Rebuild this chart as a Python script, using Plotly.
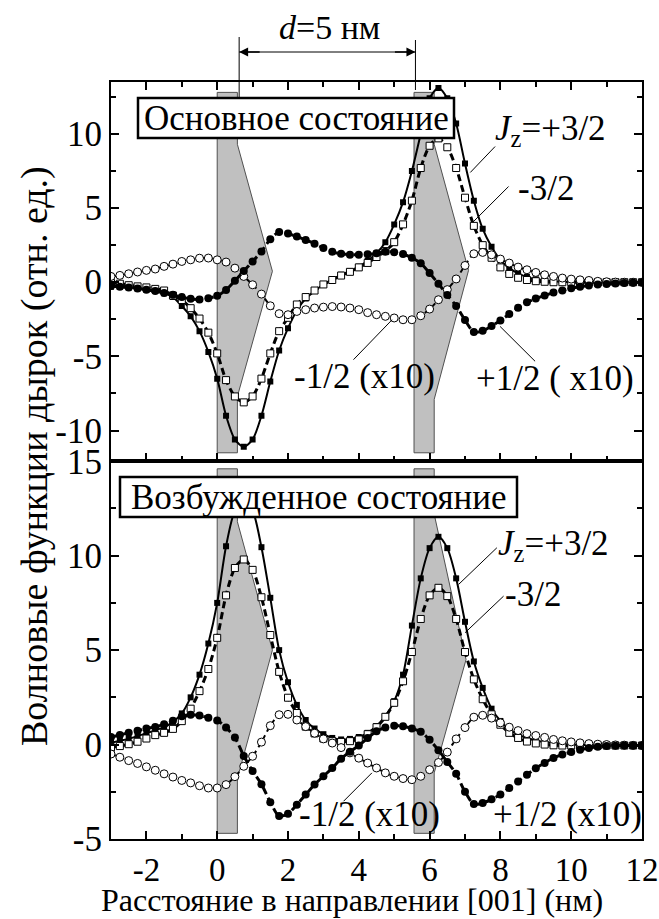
import numpy as np
import plotly.graph_objects as go

# ---------------------------------------------------------------- data
# coordinate along [001] (nm), one sample every 0.25 nm
x_nm = np.round(np.arange(-3.0, 12.0 + 1e-9, 0.25), 2)

# ground state
ground_p32 = [-0.30, -0.32, -0.36, -0.42, -0.50, -0.60, -0.75, -1.00,
              -1.60, -2.30, -3.30, -4.70, -6.50, -9.00, -10.60, -11.10,
              -10.60, -9.00, -6.70, -4.60, -3.10, -1.90, -1.10, -0.60,
              -0.15, 0.20, 0.50, 0.75, 1.05, 1.45, 1.95, 2.70,
              3.90, 5.40, 7.50, 10.00, 12.40, 13.10, 12.40, 10.70,
              8.00, 5.50, 3.60, 2.40, 1.50, 0.95, 0.60, 0.35,
              0.20, 0.12, 0.06, 0.03, 0.01, 0.00, 0.00, 0.00,
              0.00, 0.00, 0.00, 0.00, 0.00]
ground_m32 = [-0.05, -0.10, -0.20, -0.28, -0.35, -0.45, -0.56, -0.90,
              -1.20, -1.75, -2.45, -3.40, -4.80, -6.60, -7.70, -8.10,
              -7.70, -6.50, -4.80, -3.30, -2.40, -1.50, -1.00, -0.56,
              -0.15, 0.15, 0.45, 0.70, 1.00, 1.30, 1.70, 2.10,
              2.70, 3.90, 5.50, 7.70, 9.20, 9.70, 9.10, 7.70,
              5.70, 3.80, 2.50, 1.65, 1.00, 0.56, 0.30, 0.15,
              0.07, 0.03, 0.00, 0.00, 0.00, 0.00, 0.00, 0.00,
              0.00, 0.00, 0.00, 0.00, 0.00]
ground_m12 = [0.39, 0.46, 0.57, 0.69, 0.80, 0.89, 1.07, 1.22,
              1.40, 1.51, 1.62, 1.63, 1.51, 1.36, 0.95, 0.39,
              -0.17, -0.80, -1.59, -2.12, -2.19, -1.97, -1.85, -1.74,
              -1.68, -1.64, -1.67, -1.74, -1.85, -2.05, -2.19, -2.30,
              -2.41, -2.53, -2.53, -2.26, -1.81, -1.18, -0.50, 0.22,
              1.13, 1.92, 2.01, 1.85, 1.56, 1.29, 1.02, 0.84,
              0.66, 0.50, 0.39, 0.28, 0.21, 0.16, 0.12, 0.06,
              0.03, 0.01, 0.00, 0.00, 0.00]
ground_p12 = [-0.25, -0.30, -0.35, -0.42, -0.50, -0.60, -0.72, -0.85,
              -1.00, -1.12, -1.17, -1.08, -0.92, -0.52, 0.10, 0.75,
              1.40, 2.07, 2.90, 3.38, 3.28, 3.08, 2.85, 2.60,
              2.30, 2.05, 1.92, 1.86, 1.85, 1.88, 1.95, 2.05,
              2.02, 1.90, 1.65, 1.28, 0.62, -0.10, -0.86, -1.60,
              -2.55, -3.35, -3.28, -2.95, -2.58, -2.15, -1.72, -1.35,
              -1.10, -0.90, -0.70, -0.55, -0.40, -0.30, -0.22, -0.16,
              -0.12, -0.08, -0.05, -0.03, -0.02]

# excited state
excited_p32 = [0.10, 0.20, 0.30, 0.45, 0.60, 0.75, 0.92, 1.20,
               1.65, 2.50, 3.70, 5.35, 7.50, 10.50, 12.40, 13.00,
               12.40, 10.45, 7.77, 5.00, 3.30, 2.10, 1.30, 0.85,
               0.55, 0.35, 0.27, 0.30, 0.40, 0.62, 0.98, 1.50,
               2.30, 3.70, 6.30, 8.80, 10.40, 11.00, 10.40, 8.80,
               6.50, 4.40, 3.00, 1.90, 1.25, 0.80, 0.53, 0.35,
               0.22, 0.14, 0.08, 0.03, 0.00, -0.02, -0.03, -0.04,
               -0.05, -0.05, -0.05, -0.05, -0.05]
excited_m32 = [-0.15, -0.08, 0.02, 0.15, 0.32, 0.50, 0.62, 0.83,
               1.24, 1.90, 2.83, 4.00, 5.65, 7.90, 9.35, 9.80,
               9.25, 7.80, 5.80, 3.85, 2.48, 1.67, 0.95, 0.59,
               0.32, 0.18, 0.14, 0.18, 0.27, 0.55, 0.92, 1.47,
               2.21, 3.35, 4.90, 6.65, 7.90, 8.30, 7.86, 6.65,
               4.90, 3.45, 2.40, 1.60, 1.05, 0.62, 0.35, 0.16,
               0.06, 0.00, -0.04, -0.05, -0.05, -0.05, -0.05, -0.05,
               -0.05, -0.05, -0.05, -0.05, -0.05]
excited_m12 = [-0.50, -0.67, -0.85, -1.00, -1.18, -1.36, -1.55, -1.72,
               -1.90, -2.03, -2.18, -2.30, -2.30, -2.12, -1.70, -1.15,
               -0.62, 0.13, 1.00, 1.58, 1.60, 1.30, 0.95, 0.60,
               0.30, 0.08, -0.16, -0.44, -0.72, -0.98, -1.24, -1.50,
               -1.68, -1.80, -1.86, -1.68, -1.33, -0.95, -0.40, 0.30,
               0.90, 1.45, 1.55, 1.40, 1.15, 0.92, 0.74, 0.58,
               0.48, 0.38, 0.27, 0.20, 0.14, 0.09, 0.05, 0.02,
               0.00, -0.02, -0.03, -0.04, -0.05]
excited_p12 = [0.40, 0.50, 0.63, 0.73, 0.85, 0.93, 1.08, 1.26,
               1.50, 1.58, 1.54, 1.42, 1.28, 0.90, 0.38, -0.60,
               -1.40, -2.10, -3.05, -3.78, -3.66, -3.18, -2.65, -2.12,
               -1.68, -1.24, -0.75, -0.38, -0.05, 0.35, 0.70, 0.91,
               1.00, 0.97, 0.85, 0.68, 0.25, -0.30, -0.92, -1.55,
               -2.50, -3.15, -3.10, -2.90, -2.64, -2.30, -1.95, -1.60,
               -1.25, -0.97, -0.71, -0.53, -0.39, -0.27, -0.18, -0.12,
               -0.08, -0.06, -0.05, -0.05, -0.05]

for arr in (ground_p32, ground_m32, ground_m12, ground_p12,
            excited_p32, excited_m32, excited_m12, excited_p12):
    assert len(arr) == len(x_nm), len(arr)

# quantum-well profiles (x nm, value) drawn as gray polygons
well_x_ground_1 = [0.0, 0.0, 0.57, 0.57, 1.56, 0.57, 0.57]
well_y_ground_1 = [-11.5, 12.8, 12.8, 9.3, 0.74, -7.7, -11.5]
well_x_ground_2 = [5.56, 5.56, 6.13, 6.13, 7.10, 6.13, 6.13]
well_y_ground_2 = [-11.5, 12.8, 12.8, 9.3, 0.8, -7.9, -11.5]
well_x_excited_1 = [0.0, 0.0, 0.57, 0.57, 1.56, 0.57, 0.57]
well_y_excited_1 = [-4.7, 14.6, 14.6, 11.8, 5.0, -1.8, -4.7]
well_x_excited_2 = [5.56, 5.56, 6.13, 6.13, 7.03, 6.13, 6.13]
well_y_excited_2 = [-4.7, 14.6, 14.6, 12.2, 4.5, -1.5, -4.7]

# tick labels
x_tick_vals = [-2, 0, 2, 4, 6, 8, 10, 12]
x_tick_text = ["-2", "0", "2", "4", "6", "8", "10", "12"]
y_top_vals = [-10, -5, 0, 5, 10]
y_top_text = ["-10", "-5", "0", "5", "10"]
y_bot_vals = [-5, 0, 5, 10, 15]
y_bot_text = ["-5", "0", "5", "10", "15"]

# ---------------------------------------------------------------- layout helpers
FONT = "'Liberation Serif', 'Times New Roman', Times, 'DejaVu Serif', serif"
W, H = 659, 919
ML, MR, MT, MB = 111, 17, 82, 80
PW, PH = W - ML - MR, H - MT - MB
FS = 35  # main text size


def px(xp):
    return (xp - ML) / PW


def py(yp):
    return 1 - (yp - MT) / PH


styles = {
    "p32": dict(mode="lines+markers",
                line=dict(color="black", width=2, shape="spline", smoothing=0.8),
                marker=dict(symbol="square", size=6, color="black")),
    "m32": dict(mode="lines+markers",
                line=dict(color="black", width=3, dash="7px,4px", shape="spline", smoothing=0.8),
                marker=dict(symbol="square", size=7, color="white",
                            line=dict(color="black", width=1))),
    "m12": dict(mode="lines+markers",
                line=dict(color="black", width=2, dash="5px,4px", shape="spline", smoothing=0.8),
                marker=dict(symbol="circle", size=8, color="white",
                            line=dict(color="black", width=1))),
    "p12": dict(mode="lines+markers",
                line=dict(color="black", width=3, dash="8px,4px", shape="spline", smoothing=0.8),
                marker=dict(symbol="circle", size=8, color="black")),
}

fig = go.Figure()

panels = [
    ("x", "y", dict(p32=ground_p32, m32=ground_m32, m12=ground_m12, p12=ground_p12)),
    ("x2", "y2", dict(p32=excited_p32, m32=excited_m32, m12=excited_m12, p12=excited_p12)),
]
for xa, ya, series in panels:
    for key in ("p32", "m32", "m12", "p12"):
        fig.add_trace(go.Scatter(x=x_nm, y=series[key], xaxis=xa, yaxis=ya,
                                 showlegend=False, hoverinfo="skip", **styles[key]))

# gray well profiles
shapes = []
for xa, ya, wx, wy in [("x", "y", well_x_ground_1, well_y_ground_1),
                       ("x", "y", well_x_ground_2, well_y_ground_2),
                       ("x2", "y2", well_x_excited_1, well_y_excited_1),
                       ("x2", "y2", well_x_excited_2, well_y_excited_2)]:
    path = "M " + " L ".join(f"{a},{b}" for a, b in zip(wx, wy)) + " Z"
    shapes.append(dict(type="path", path=path, xref=xa, yref=ya, layer="below",
                       fillcolor="#c0c0c0", line=dict(color="#505050", width=1)))

# label boxes
for x0, y0, x1, y1 in [(138, 98, 454, 138), (120, 477, 517, 517)]:
    shapes.append(dict(type="rect", xref="paper", yref="paper",
                       x0=px(x0), x1=px(x1), y0=py(y1), y1=py(y0),
                       fillcolor="white", line=dict(color="black", width=2.5),
                       layer="above"))

# leader lines
for xa, ya, (x0, y0, x1, y1) in [
        ("x", "y", (7.85, 9.15, 7.15, 7.4)),
        ("x", "y", (8.23, 6.45, 7.24, 4.09)),
        ("x", "y", (3.85, -5.22, 4.94, -2.53)),
        ("x", "y", (8.98, -5.33, 7.99, -2.98)),
        ("x2", "y2", (7.9, 10.42, 6.82, 8.48)),
        ("x2", "y2", (8.09, 7.86, 7.0, 5.92)),
        ("x2", "y2", (3.57, -3.0, 4.37, -1.5))]:
    shapes.append(dict(type="line", xref=xa, yref=ya, x0=x0, y0=y0, x1=x1, y1=y1,
                       line=dict(color="black", width=1), layer="above"))

# distance marker d = 5 nm
d_left, d_right = 0.62, 5.60
shapes.append(dict(type="line", xref="x", yref="paper", x0=d_left, x1=d_left,
                   y0=py(97), y1=py(37), line=dict(color="black", width=1)))
shapes.append(dict(type="line", xref="x", yref="paper", x0=d_right, x1=d_right,
                   y0=py(90), y1=py(40), line=dict(color="black", width=1)))
shapes.append(dict(type="line", xref="x", yref="paper", x0=d_left, x1=d_right,
                   y0=py(52), y1=py(52), line=dict(color="black", width=1)))

annotations = []
for xv, sign in [(d_left, 1), (d_right, -1)]:
    annotations.append(dict(x=xv, y=py(52), xref="x", yref="paper", text="",
                            showarrow=True, ax=22 * sign, ay=0, axref="pixel",
                            ayref="pixel", arrowhead=2, arrowsize=1.2,
                            arrowwidth=1.5, arrowcolor="black", standoff=0))


def label(text, xp, yp, anchor="left", size=FS):
    annotations.append(dict(x=px(xp), y=py(yp), xref="paper", yref="paper",
                            text=text, showarrow=False, xanchor=anchor,
                            yanchor="middle",
                            font=dict(family=FONT, size=size, color="black")))


label("<i>d</i>=5 нм", 329, 27, anchor="center", size=34)
label("Основное состояние", 296, 118, anchor="center")
label("Возбужденное состояние", 319, 497, anchor="center")
label("<i>J</i><sub>z</sub>=+3/2", 493, 130)
label("-3/2", 516, 189)
label("-1/2 (x10)", 292, 376)
label("+1/2 ( x10)", 474, 378)
label("<i>J</i><sub>z</sub>=+3/2", 496, 545)
label("-3/2", 503, 594)
label("-1/2 (x10)", 297, 814)
label("+1/2 (x10)", 491, 814)

annotations.append(dict(x=px(35), y=py(456), xref="paper", yref="paper",
                        text="Волновые функции дырок (отн. ед.)", textangle=-90,
                        showarrow=False, xanchor="center", yanchor="middle",
                        font=dict(family=FONT, size=38, color="black")))
annotations.append(dict(x=px(352), y=py(900), xref="paper", yref="paper",
                        text="Расстояние в направлении [001] (нм)",
                        showarrow=False, xanchor="center", yanchor="middle",
                        font=dict(family=FONT, size=32, color="black")))

axis_common = dict(showline=True, linewidth=2, linecolor="black", showgrid=False,
                   zeroline=False, ticks="inside", ticklen=8, tickwidth=1.5,
                   tickcolor="black", ticklabeloverflow="allow", automargin=False,
                   tickfont=dict(family=FONT, size=FS, color="black"))
x_tickfont = dict(family=FONT, size=33, color="black")

fig.update_layout(
    width=W, height=H,
    margin=dict(l=ML, r=MR, t=MT, b=MB, pad=0, autoexpand=False),
    paper_bgcolor="white", plot_bgcolor="white",
    xaxis=dict(domain=[0, 1], anchor="y", range=[-3, 12], matches="x2",
               tickvals=x_tick_vals, ticktext=x_tick_text, showticklabels=False,
               mirror="allticks",
               minor=dict(dtick=1, tick0=0, ticks="inside", ticklen=5,
                          tickcolor="black", tickwidth=1.5),
               **axis_common),
    xaxis2=dict(domain=[0, 1], anchor="y2", range=[-3, 12],
                tickvals=x_tick_vals, ticktext=x_tick_text, mirror=True,
                minor=dict(dtick=1, tick0=0, ticks="inside", ticklen=5,
                           tickcolor="black", tickwidth=1.5),
                **{**axis_common, "tickfont": x_tickfont}),
    yaxis=dict(domain=[0.5, 1], anchor="x", range=[-12.02, 13.5],
               tickvals=y_top_vals, ticktext=y_top_text, mirror="allticks",
               minor=dict(dtick=2.5, tick0=0, ticks="inside", ticklen=5,
                          tickcolor="black", tickwidth=1.5),
               **axis_common),
    yaxis2=dict(domain=[0, 0.5], anchor="x2", range=[-5, 15.04],
                tickvals=y_bot_vals, ticktext=y_bot_text, mirror="allticks",
                minor=dict(dtick=2.5, tick0=0, ticks="inside", ticklen=5,
                           tickcolor="black", tickwidth=1.5),
                **axis_common),
    shapes=shapes,
    annotations=annotations,
    font=dict(family=FONT, color="black"),
)

fig.write_html("out.html")
